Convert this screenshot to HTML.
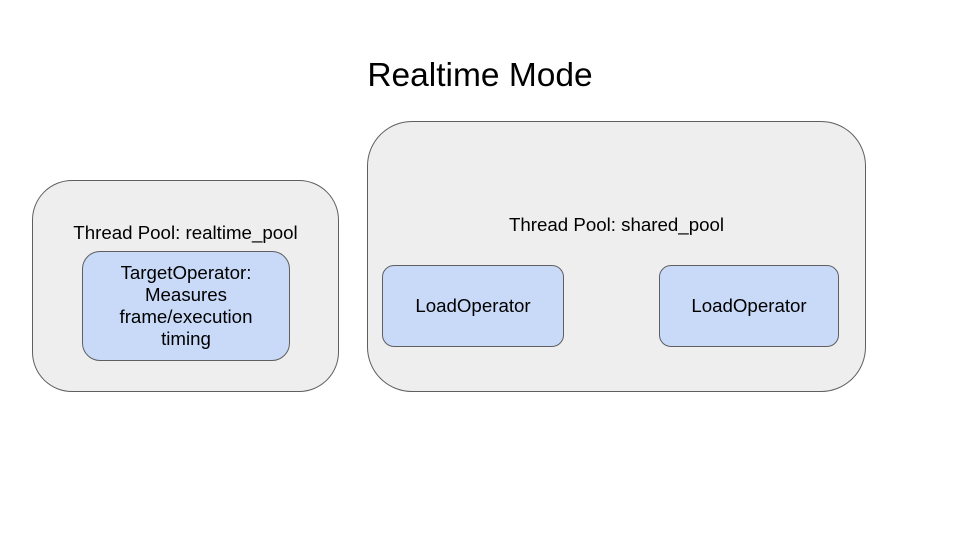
<!DOCTYPE html>
<html><head><style>
body{margin:0;width:960px;height:540px;background:#fff;font-family:"Liberation Sans",sans-serif;position:relative;overflow:hidden}
.a{position:absolute;box-sizing:border-box}
.pool{background:#eeeeee;border:1px solid #5f5f5f}
.op{background:#c9daf8;border:1px solid #5f5f5f;display:flex;align-items:center;justify-content:center;text-align:center;font-size:18.7px;color:#000;line-height:22px}
.t{font-size:18.7px;color:#000;text-align:center}
</style></head><body>
<div class="a" style="left:0;top:57px;width:960px;text-align:center;font-size:33.5px">Realtime Mode</div>
<div class="a pool" style="left:32px;top:180px;width:307px;height:212px;border-radius:40px"></div>
<div class="a t" style="left:32px;top:222px;width:307px">Thread Pool: realtime_pool</div>
<div class="a op" style="left:82px;top:251px;width:208px;height:110px;border-radius:18px">TargetOperator:<br>Measures<br>frame/execution<br>timing</div>
<div class="a pool" style="left:367px;top:121px;width:499px;height:271px;border-radius:45px"></div>
<div class="a t" style="left:367px;top:214px;width:499px">Thread Pool: shared_pool</div>
<div class="a op" style="left:382px;top:265px;width:182px;height:82px;border-radius:12px">LoadOperator</div>
<div class="a op" style="left:659px;top:265px;width:180px;height:82px;border-radius:12px">LoadOperator</div>
</body></html>
